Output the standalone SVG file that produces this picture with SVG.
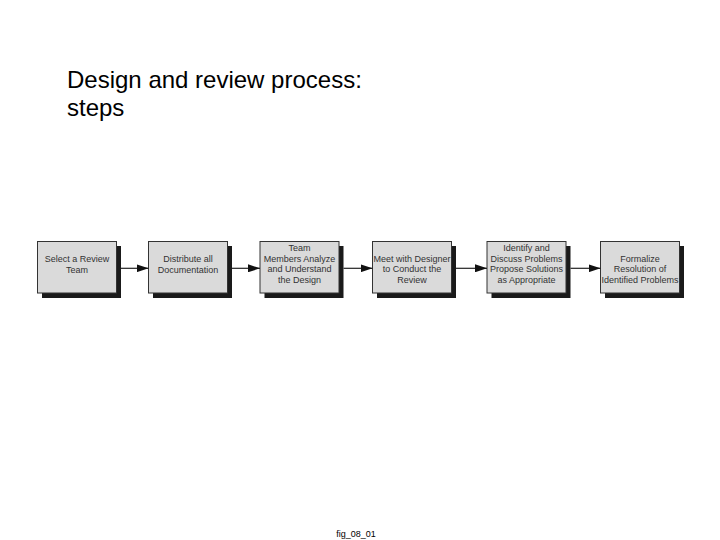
<svg xmlns="http://www.w3.org/2000/svg" width="720" height="540" viewBox="0 0 720 540">
<style>
.title{font-family:"Liberation Sans",Arial,sans-serif;font-size:24px;fill:#000}
.foot{font-family:"Liberation Sans",Arial,sans-serif;font-size:9px;fill:#000}
.shadow{fill:#1a1a1a}
.box{fill:#dadada;stroke:#333;stroke-width:1}
.lbl{font-family:"Liberation Sans",Arial,sans-serif;font-size:9px;fill:#333;text-anchor:middle}
.conn{stroke:#222;stroke-width:1.2;fill:none}
</style>
<defs>
<marker id="ah" markerWidth="12" markerHeight="8" refX="12" refY="4" orient="auto" markerUnits="userSpaceOnUse">
<path d="M0,0 L12,4 L0,8 Z" fill="#111"/>
</marker>
</defs>
<rect width="720" height="540" fill="#fff"/>
<text class="title" x="67" y="88">Design and review process:</text>
<text class="title" x="67" y="116">steps</text>

<g id="n1">
<rect class="shadow" x="42" y="246" width="79" height="52"/>
<rect class="box" x="37.5" y="241.5" width="79" height="51.5"/>
<text class="lbl" x="77" y="262">Select a Review</text>
<text class="lbl" x="77" y="272.5">Team</text>
</g>
<g id="n2">
<rect class="shadow" x="153" y="246" width="79" height="52"/>
<rect class="box" x="148.5" y="241.5" width="79" height="51.5"/>
<text class="lbl" x="188" y="262">Distribute all</text>
<text class="lbl" x="188" y="272.5">Documentation</text>
</g>
<g id="n3">
<rect class="shadow" x="264.5" y="246" width="79" height="52"/>
<rect class="box" x="260" y="241.5" width="79" height="51.5"/>
<text class="lbl" x="299.5" y="251">Team</text>
<text class="lbl" x="299.5" y="261.5">Members Analyze</text>
<text class="lbl" x="299.5" y="272">and Understand</text>
<text class="lbl" x="299.5" y="282.5">the Design</text>
</g>
<g id="n4">
<rect class="shadow" x="377" y="246" width="79" height="52"/>
<rect class="box" x="372.5" y="241.5" width="79" height="51.5"/>
<text class="lbl" x="412" y="261.5">Meet with Designer</text>
<text class="lbl" x="412" y="272">to Conduct the</text>
<text class="lbl" x="412" y="282.5">Review</text>
</g>
<g id="n5">
<rect class="shadow" x="491.5" y="246" width="79" height="52"/>
<rect class="box" x="487" y="241.5" width="79" height="51.5"/>
<text class="lbl" x="526.5" y="251">Identify and</text>
<text class="lbl" x="526.5" y="261.5">Discuss Problems</text>
<text class="lbl" x="526.5" y="272">Propose Solutions</text>
<text class="lbl" x="526.5" y="282.5">as Appropriate</text>
</g>
<g id="n6">
<rect class="shadow" x="605" y="246" width="79" height="52"/>
<rect class="box" x="600.5" y="241.5" width="79" height="51.5"/>
<text class="lbl" x="640" y="261.5">Formalize</text>
<text class="lbl" x="640" y="272">Resolution of</text>
<text class="lbl" x="640" y="282.5">Identified Problems</text>
</g>

<g id="connectors">
<line class="conn" x1="121" y1="268.3" x2="148.5" y2="268.3" marker-end="url(#ah)"/>
<line class="conn" x1="232" y1="268.3" x2="260" y2="268.3" marker-end="url(#ah)"/>
<line class="conn" x1="343.5" y1="268.3" x2="372.5" y2="268.3" marker-end="url(#ah)"/>
<line class="conn" x1="456" y1="268.3" x2="487" y2="268.3" marker-end="url(#ah)"/>
<line class="conn" x1="570.5" y1="268.3" x2="600.5" y2="268.3" marker-end="url(#ah)"/>
</g>

<text class="foot" x="356" y="537" text-anchor="middle">fig_08_01</text>
</svg>
